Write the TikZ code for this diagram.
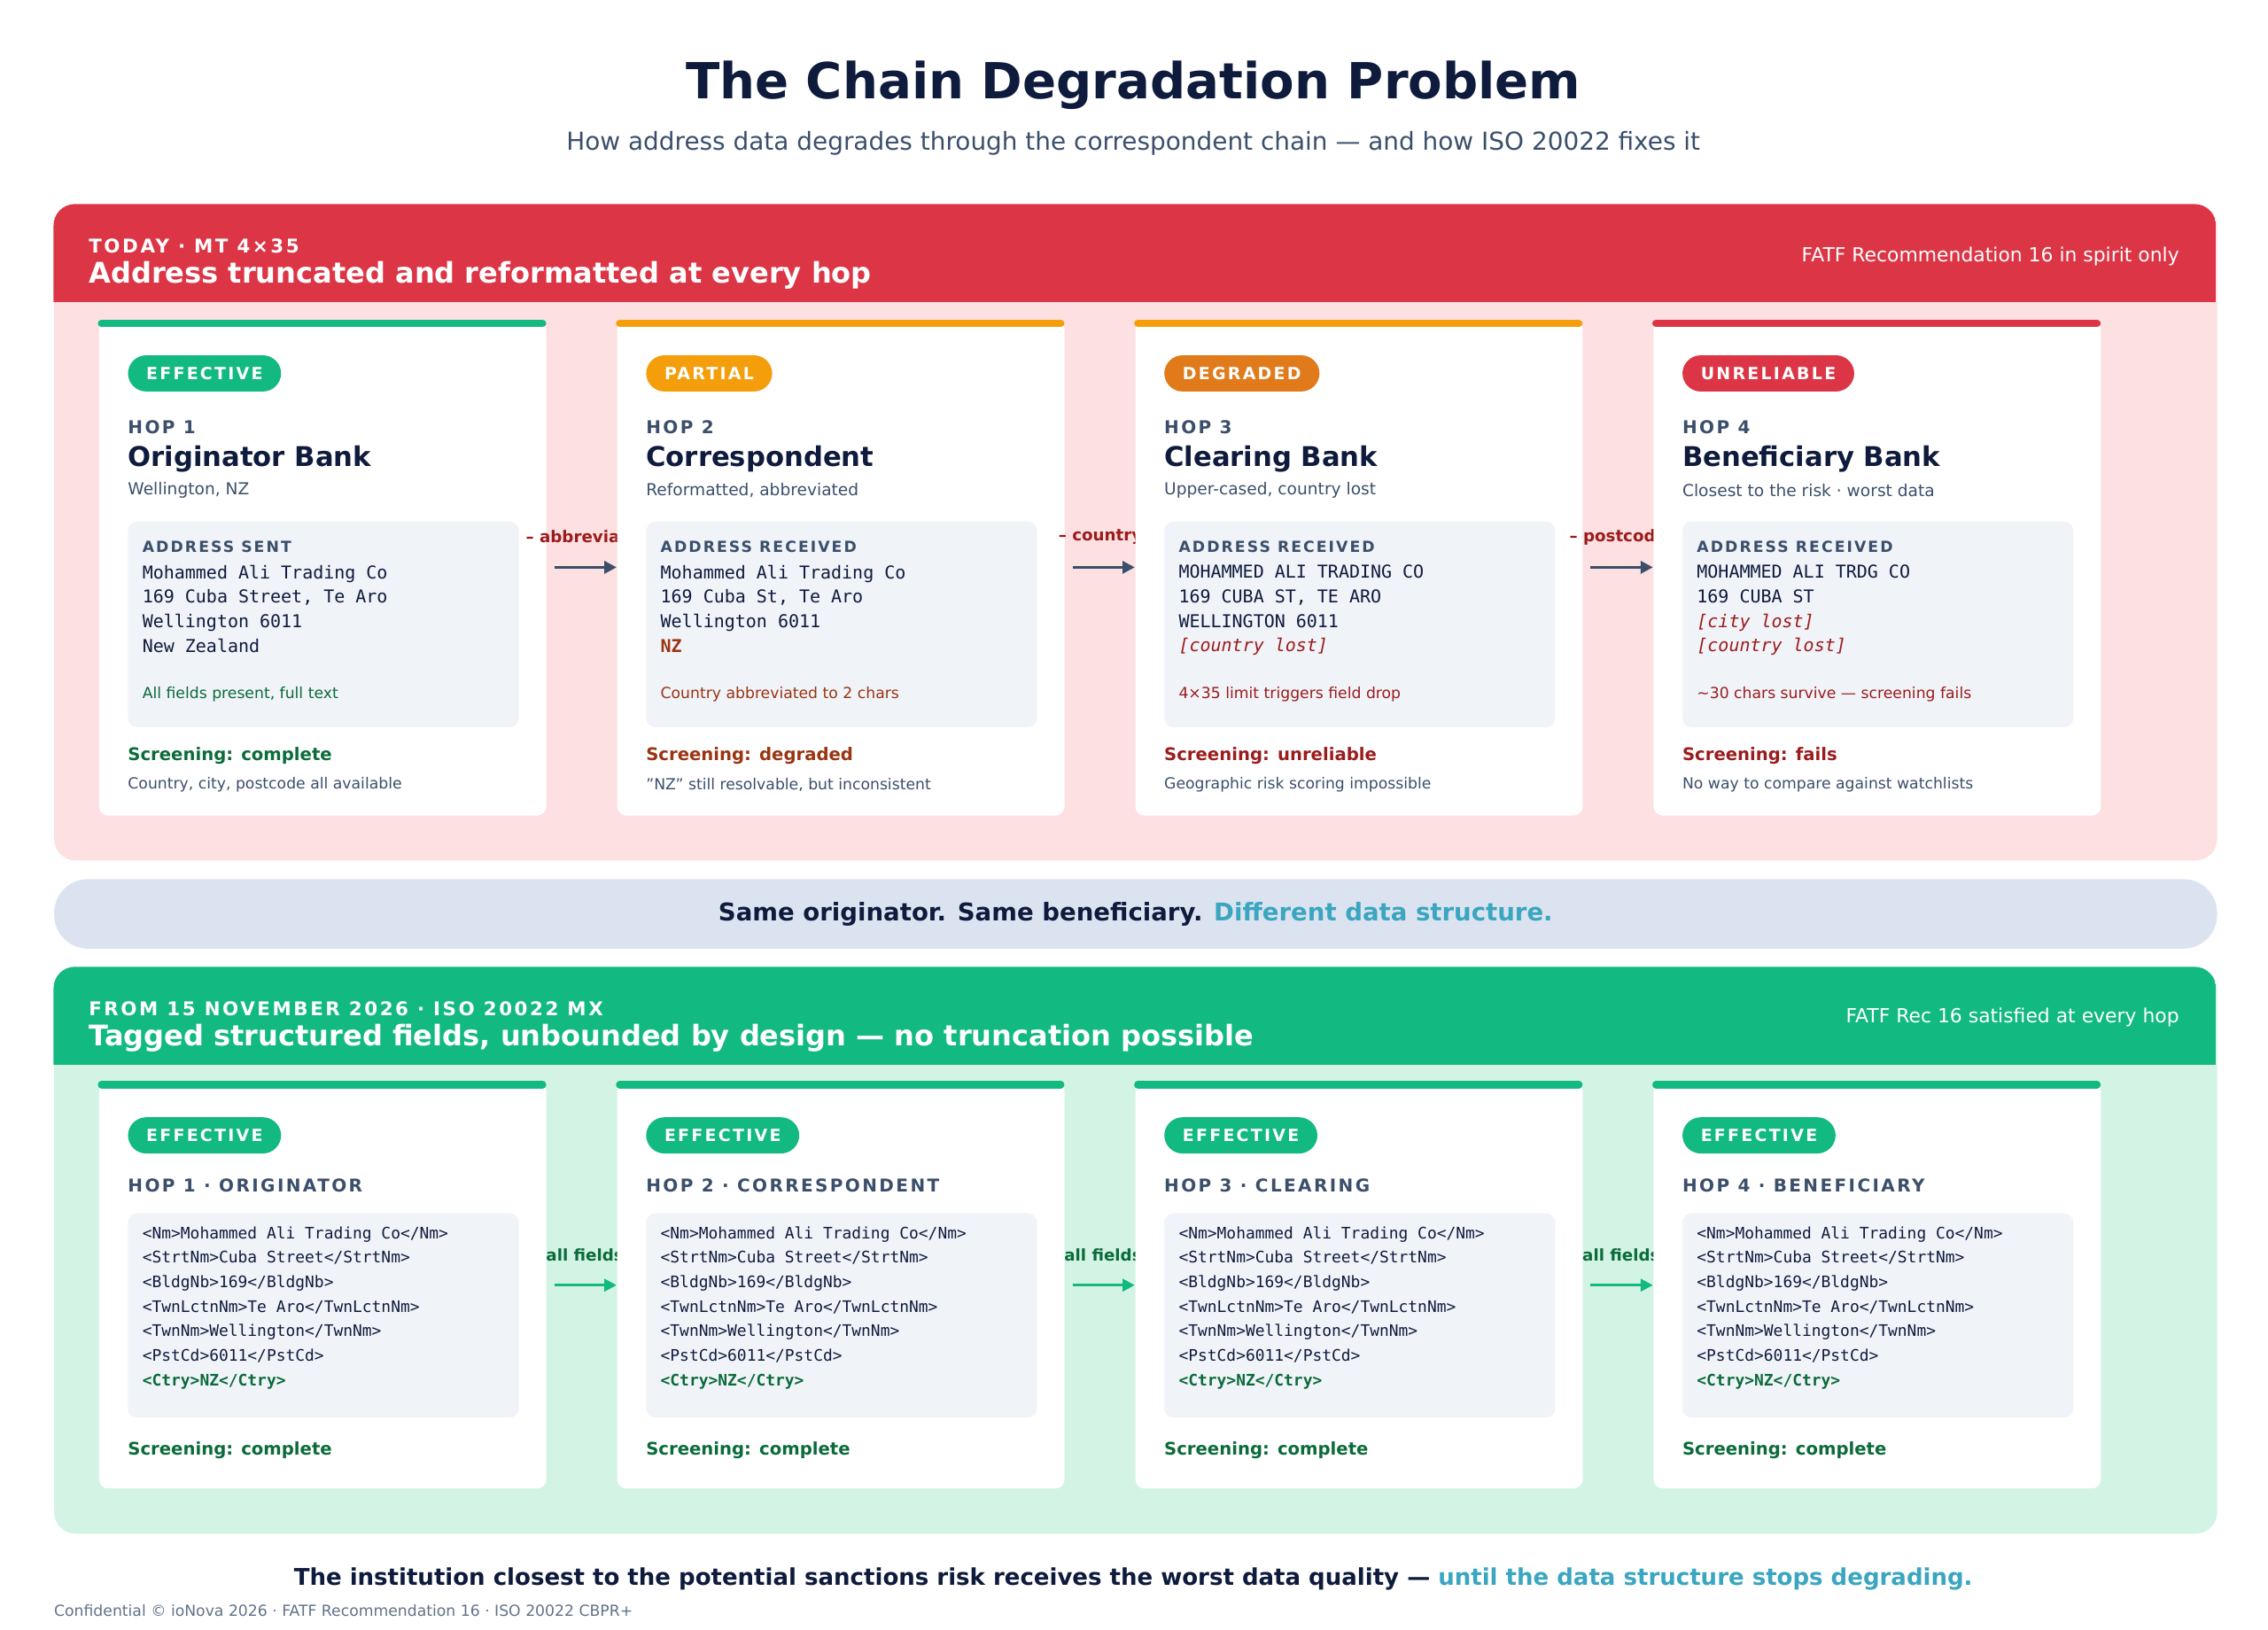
\documentclass[tikz,border=0pt]{standalone}
\usepackage{fontspec}
\setmainfont{DejaVu Sans}
\setmonofont{DejaVu Sans Mono}
\newfontfamily\spaced{DejaVu Sans}[LetterSpace=12]
\usetikzlibrary{positioning, arrows.meta, calc}

\definecolor{navy}{HTML}{0F1B3D}
\definecolor{slate}{HTML}{3B4F6B}
\definecolor{alertred}{HTML}{DC3545}
\definecolor{pinkbg}{HTML}{FDE0E1}
\definecolor{okgreen}{HTML}{12B981}
\definecolor{mintbg}{HTML}{D3F3E5}
\definecolor{darkgreen}{HTML}{0B6B3A}
\definecolor{darkred}{HTML}{9B1C1C}
\definecolor{brown}{HTML}{9A3412}
\definecolor{amber}{HTML}{F59E0B}
\definecolor{burnt}{HTML}{E07A1A}
\definecolor{boxbg}{HTML}{F0F3F8}
\definecolor{bandbg}{HTML}{DCE3F0}
\definecolor{teal}{HTML}{3AA6C0}

\begin{document}
\begin{tikzpicture}[
    x=0.0166667cm, y=-0.0166667cm,
    % --- styles ---
    txt/.style={inner sep=0pt, anchor=west, align=left},
    panel/.style={anchor=north west, rounded corners=7pt, inner sep=0pt,
            minimum width=24.9cm},
    card/.style={anchor=north west, fill=white, rounded corners=3pt,
            inner sep=0pt, minimum width=5.15cm},
    bar/.style={line width=2.4pt, line cap=round, shorten <=1pt, shorten >=1pt},
    badge/.style={anchor=west, text=white, rounded corners=6pt, inner xsep=6pt,
            minimum height=0.417cm, font=\spaced\bfseries\fontsize{5.5}{6}\selectfont},
    hop/.style={txt, text=slate, font=\spaced\bfseries\fontsize{5.8}{7}\selectfont},
    bank/.style={txt, text=navy, font=\bfseries\fontsize{8.9}{10}\selectfont},
    sub/.style={txt, text=slate, font=\fontsize{5.4}{6}\selectfont},
    addrbox/.style={anchor=north west, fill=boxbg, rounded corners=3pt,
            inner sep=0pt, minimum width=4.5cm},
    boxlbl/.style={txt, text=slate, font=\spaced\bfseries\fontsize{5}{6}\selectfont},
    addr/.style={txt, text=navy, font=\ttfamily\fontsize{5.8}{8.03}\selectfont},
    xml/.style={txt, text=navy, font=\ttfamily\fontsize{5.2}{8.03}\selectfont},
    note/.style={txt, font=\fontsize{5}{6}\selectfont},
    screen/.style={txt, font=\bfseries\fontsize{5.7}{7}\selectfont},
    desc/.style={txt, text=slate, font=\fontsize{5}{6}\selectfont},
    flow/.style={-{Triangle[length=4pt, width=4pt]}, line width=0.95pt,
            shorten <=2.4pt},
    flowlbl/.style={txt, font=\bfseries\fontsize{5.3}{6}\selectfont}
    ]

    \useasboundingbox (0,0) rectangle (1567,1126);

    % --- title ---
    \node[inner sep=0pt, text=navy, font=\bfseries\fontsize{16.3}{18}\selectfont]
        (title) at (783,59) {The Chain Degradation Problem};
    \node[inner sep=0pt, text=slate, font=\fontsize{8.1}{10}\selectfont]
        (subtitle) at (783,99) {How address data degrades through the correspondent chain — and how ISO 20022 fixes it};

    % --- panels ---
    \node[panel, fill=pinkbg, minimum height=7.55cm] (today) at (37,141) {};
    \begin{scope}
        \clip[rounded corners=7pt] (37,141) rectangle (1531,594);
        \fill[alertred] (37,141) rectangle (1531,209);
    \end{scope}
    \node[txt, text=white, font=\spaced\bfseries\fontsize{6.2}{7}\selectfont] (todaytag) at (61,170) {TODAY · MT 4×35};
    \node[txt, text=white, font=\bfseries\fontsize{9.3}{11}\selectfont] (todayhead) at (61,190) {Address truncated and reformatted at every hop};
    \node[txt, anchor=east, text=white, font=\fontsize{6.35}{7}\selectfont] (todayfatf) at (1506,177) {FATF Recommendation 16 in spirit only};

    \node[panel, fill=bandbg, rounded corners=11pt, minimum height=0.8cm] (band) at (37,607) {};
    \node[inner sep=0pt, font=\bfseries\fontsize{8}{9}\selectfont, text=navy] (bandtxt) at (band.center)
        {Same originator. Same beneficiary. \textcolor{teal}{Different data structure.}};

    \node[panel, fill=mintbg, minimum height=6.52cm] (iso) at (37,668) {};
    \begin{scope}
        \clip[rounded corners=7pt] (37,668) rectangle (1531,1059);
        \fill[okgreen] (37,668) rectangle (1531,736);
    \end{scope}
    \node[txt, text=white, font=\spaced\bfseries\fontsize{6.2}{7}\selectfont] (isotag) at (61,697) {FROM 15 NOVEMBER 2026 · ISO 20022 MX};
    \node[txt, text=white, font=\bfseries\fontsize{9.3}{11}\selectfont] (isohead) at (61,717) {Tagged structured fields, unbounded by design — no truncation possible};
    \node[txt, anchor=east, text=white, font=\fontsize{6.35}{7}\selectfont] (isofatf) at (1506,703) {FATF Rec 16 satisfied at every hop};

    % --- today: cards, each connector label cut off by the next card ---
    \foreach \x/\n/\c/\o/\l in {68/c1/okgreen/-15/– abbreviation, 426/c2/amber/-5/– country,
            784/c3/amber/-10/– postcode, 1142/c4/alertred/0/} {
        \node[card, minimum height=5.7cm] (\n) at (\x,221) {};
        \draw[bar, \c] (\n.north west) ++(0,2.5) -- ++(309,0);
        \node[addrbox, minimum height=2.367cm] (\n box) at ($(\n.north west)+(20,139)$) {};
        \node[flowlbl, text=darkred] (\n lbl) at ($(\n.north east)+(\o,150)$) {\l};
    }

    \node[badge, fill=okgreen] (b1) at ($(c1.north west)+(20,37)$) {EFFECTIVE};
    \node[hop] (h1) at ($(c1.north west)+(20,74)$) {HOP 1};
    \node[bank] (n1) at ($(c1.north west)+(20,96)$) {Originator Bank};
    \node[sub] (s1) at ($(c1.north west)+(20,118)$) {Wellington, NZ};
    \node[boxlbl] (a1) at ($(c1.north west)+(30,157)$) {ADDRESS SENT};
    \node[addr, anchor=north west] (t1) at ($(c1.north west)+(30,169)$)
        {Mohammed Ali Trading Co\\169 Cuba Street, Te Aro\\Wellington 6011\\New Zealand};
    \node[note, text=darkgreen] (o1) at ($(c1.north west)+(30,259)$) {All fields present, full text};
    \node[screen, text=darkgreen] (r1) at ($(c1.north west)+(20,301)$) {Screening: complete};
    \node[desc] (d1) at ($(c1.north west)+(20,321)$) {Country, city, postcode all available};

    \node[badge, fill=amber] (b2) at ($(c2.north west)+(20,37)$) {PARTIAL};
    \node[hop] (h2) at ($(c2.north west)+(20,74)$) {HOP 2};
    \node[bank] (n2) at ($(c2.north west)+(20,96)$) {Correspondent};
    \node[sub] (s2) at ($(c2.north west)+(20,118)$) {Reformatted, abbreviated};
    \node[boxlbl] (a2) at ($(c2.north west)+(30,157)$) {ADDRESS RECEIVED};
    \node[addr, anchor=north west] (t2) at ($(c2.north west)+(30,169)$)
        {Mohammed Ali Trading Co\\169 Cuba St, Te Aro\\Wellington 6011\\\textcolor{brown}{\bfseries NZ}};
    \node[note, text=brown] (o2) at ($(c2.north west)+(30,259)$) {Country abbreviated to 2 chars};
    \node[screen, text=brown] (r2) at ($(c2.north west)+(20,301)$) {Screening: degraded};
    \node[desc] (d2) at ($(c2.north west)+(20,321)$) {"NZ" still resolvable, but inconsistent};

    \node[badge, fill=burnt] (b3) at ($(c3.north west)+(20,37)$) {DEGRADED};
    \node[hop] (h3) at ($(c3.north west)+(20,74)$) {HOP 3};
    \node[bank] (n3) at ($(c3.north west)+(20,96)$) {Clearing Bank};
    \node[sub] (s3) at ($(c3.north west)+(20,118)$) {Upper-cased, country lost};
    \node[boxlbl] (a3) at ($(c3.north west)+(30,157)$) {ADDRESS RECEIVED};
    \node[addr, anchor=north west] (t3) at ($(c3.north west)+(30,169)$)
        {MOHAMMED ALI TRADING CO\\169 CUBA ST, TE ARO\\WELLINGTON 6011\\\textcolor{darkred}{\itshape [country lost]}};
    \node[note, text=darkred] (o3) at ($(c3.north west)+(30,259)$) {4×35 limit triggers field drop};
    \node[screen, text=darkred] (r3) at ($(c3.north west)+(20,301)$) {Screening: unreliable};
    \node[desc] (d3) at ($(c3.north west)+(20,321)$) {Geographic risk scoring impossible};

    \node[badge, fill=alertred] (b4) at ($(c4.north west)+(20,37)$) {UNRELIABLE};
    \node[hop] (h4) at ($(c4.north west)+(20,74)$) {HOP 4};
    \node[bank] (n4) at ($(c4.north west)+(20,96)$) {Beneficiary Bank};
    \node[sub] (s4) at ($(c4.north west)+(20,118)$) {Closest to the risk · worst data};
    \node[boxlbl] (a4) at ($(c4.north west)+(30,157)$) {ADDRESS RECEIVED};
    \node[addr, anchor=north west] (t4) at ($(c4.north west)+(30,169)$)
        {MOHAMMED ALI TRDG CO\\169 CUBA ST\\\textcolor{darkred}{\itshape [city lost]}\\\textcolor{darkred}{\itshape [country lost]}};
    \node[note, text=darkred] (o4) at ($(c4.north west)+(30,259)$) {\textasciitilde30 chars survive — screening fails};
    \node[screen, text=darkred] (r4) at ($(c4.north west)+(20,301)$) {Screening: fails};
    \node[desc] (d4) at ($(c4.north west)+(20,321)$) {No way to compare against watchlists};

    % --- iso: cards ---
    \foreach \x/\n/\h/\l in {68/k1/HOP 1 · ORIGINATOR/all fields, 426/k2/HOP 2 · CORRESPONDENT/all fields,
            784/k3/HOP 3 · CLEARING/all fields, 1142/k4/HOP 4 · BENEFICIARY/} {
        \node[card, minimum height=4.683cm] (\n) at (\x,747) {};
        \draw[bar, okgreen] (\n.north west) ++(0,2.5) -- ++(309,0);
        \node[badge, fill=okgreen] (\n b) at ($(\n.north west)+(20,37.5)$) {EFFECTIVE};
        \node[hop] (\n h) at ($(\n.north west)+(20,72)$) {\h};
        \node[addrbox, minimum height=2.35cm] (\n box) at ($(\n.north west)+(20,91)$) {};
        \node[xml, anchor=north west] (\n t) at ($(\n.north west)+(30,100)$)
            {<Nm>Mohammed Ali Trading Co</Nm>\\<StrtNm>Cuba Street</StrtNm>\\<BldgNb>169</BldgNb>\\<TwnLctnNm>Te Aro</TwnLctnNm>\\<TwnNm>Wellington</TwnNm>\\<PstCd>6011</PstCd>\\\textcolor{darkgreen}{\bfseries <Ctry>NZ</Ctry>}};
        \node[screen, text=darkgreen] (\n r) at ($(\n.north west)+(20,255)$) {Screening: complete};
        \node[flowlbl, text=darkgreen] (\n lbl) at ($(\n.north east)+(-1,120)$) {\l};
    }

    % --- flow ---
    \draw[flow, slate] (c1.east |- 0,392) -- (c2.west |- 0,392);
    \draw[flow, slate] (c2.east |- 0,392) -- (c3.west |- 0,392);
    \draw[flow, slate] (c3.east |- 0,392) -- (c4.west |- 0,392);
    \draw[flow, okgreen] (k1.east |- 0,888) -- (k2.west |- 0,888);
    \draw[flow, okgreen] (k2.east |- 0,888) -- (k3.west |- 0,888);
    \draw[flow, okgreen] (k3.east |- 0,888) -- (k4.west |- 0,888);

    % --- footer ---
    \node[inner sep=0pt, text=navy, font=\bfseries\fontsize{7.55}{9}\selectfont] (moral) at (783,1091)
        {The institution closest to the potential sanctions risk receives the worst data quality — \textcolor{teal}{until the data structure stops degrading.}};
    \node[txt, text=slate!80, font=\fontsize{5}{6}\selectfont] (conf) at (37,1113)
        {Confidential © ioNova 2026 · FATF Recommendation 16 · ISO 20022 CBPR+};
\end{tikzpicture}
\end{document}
